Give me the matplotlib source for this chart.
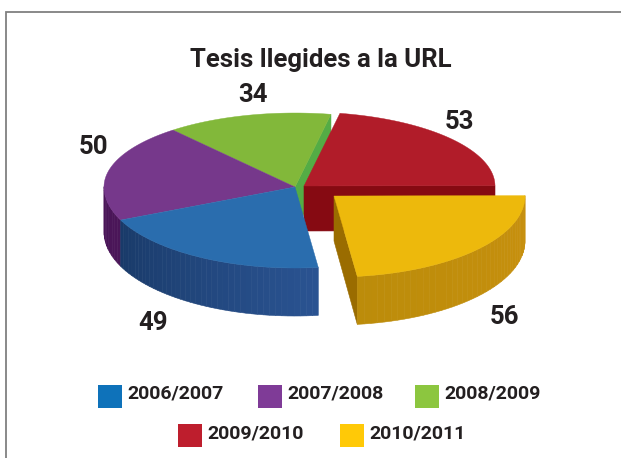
import numpy as np
import matplotlib
matplotlib.use("Agg")
from matplotlib import pyplot as plt
from matplotlib.colors import to_rgb
from matplotlib.patches import Rectangle

seasons = ["2006/2007", "2007/2008", "2008/2009", "2009/2010", "2010/2011"]
tesis = [49, 50, 34, 53, 56]
top_colors = ["#2A6DAE", "#76388B", "#82B83A", "#B11C29", "#EDB90C"]
legend_colors = ["#0E72BA", "#7F3B97", "#8CC63F", "#BE1E2D", "#FFC907"]

plt.rcParams['font.family'] = ['Roboto', 'DejaVu Sans']
text_color = "#231F20"

fig = plt.figure(figsize=(6.21, 4.58), dpi=100)
ax = fig.add_axes([0, 0, 1, 1])
ax.set_xlim(0, 621)
ax.set_ylim(458, 0)
ax.axis("off")

# pie shape, in pixels
rx = 191
b_back = 74
b_front = 81
depth = 45
start = 277

# wedge angles come from the values, clockwise from the start angle
angles = start - np.concatenate([[0], np.cumsum(tesis)]) * 360 / sum(tesis)
# the last two slices are pulled out of the pie
centers = [(295, 187), (295, 187), (295, 187), (304, 186), (334, 196)]


def rim(c, t):
    t = np.radians(t)
    b = np.where(np.sin(t) > 0, b_back, b_front)
    return c[0] + rx * np.cos(t), c[1] - b * np.sin(t)


def rim_depth(t):
    # side looks a bit taller at the front of the pie
    return depth + 3 * np.maximum(-np.sin(np.radians(t)), 0)


def wedge(c, t0, t1):
    x, y = rim(c, np.linspace(t0, t1, 120))
    return np.r_[c[0], x], np.r_[c[1], y]


def wall(c, t0, t1, col0, col1, n=40):
    # side of the pie as thin vertical strips so the shade can change
    ts = np.linspace(t0, t1, n + 1)
    col0, col1 = np.array(to_rgb(col0)), np.array(to_rgb(col1))
    for i in range(n):
        t = np.linspace(ts[i], ts[i + 1], 4)
        x, y = rim(c, t)
        col = col0 + (col1 - col0) * i / (n - 1)
        ax.fill(np.r_[x, x[::-1]], np.r_[y, (y + rim_depth(t))[::-1]], color=col, lw=0.4)


def cut(c, t, col):
    # flat face where a slice was cut, from centre to rim
    x, y = rim(c, t)
    ax.fill([c[0], x, x, c[0]], [c[1], y, y + rim_depth(t), c[1] + depth], color=col, lw=0.4)


# back to front
cut(centers[2], angles[3], "#54AC45")
x, y = wedge(centers[2], angles[2], angles[3])
ax.fill(x, y, color=top_colors[2], lw=0.3)

cut(centers[3], angles[4], "#860A12")
x, y = wedge(centers[3], angles[3], angles[4])
ax.fill(x, y, color=top_colors[3], lw=0.3)

wall(centers[1], angles[2] + 50, angles[1], "#4A1558", "#4A1558", n=10)
x, y = wedge(centers[1], angles[1], angles[2])
ax.fill(x, y, color=top_colors[1], lw=0.3)

wall(centers[0], angles[1], angles[0], "#193A69", "#2A5391")
x, y = wedge(centers[0], angles[0], angles[1])
ax.fill(x, y, color=top_colors[0], lw=0.3)

cut(centers[4], angles[5], "#9A6C00")
wall(centers[4], angles[4], angles[5], "#C8900E", "#BC8C0A")
x, y = wedge(centers[4], angles[4], angles[5])
ax.fill(x, y, color=top_colors[4], lw=0.3)

ax.text(321, 60, "Tesis llegides a la URL", fontsize=18.5, weight="bold",
        color=text_color, ha="center", va="center")

label_pos = [(153, 323), (93, 147), (253, 95), (459, 122), (504, 317)]
for v, (lx, ly) in zip(tesis, label_pos):
    ax.text(lx, ly, str(v), fontsize=18.5, weight="bold", color=text_color,
            ha="center", va="center")

swatch_pos = [(98, 385), (258, 385), (415, 385), (178, 424), (340, 424)]
for s, col, (sx, sy) in zip(seasons, legend_colors, swatch_pos):
    ax.add_patch(Rectangle((sx, sy), 24, 23, color=col, lw=0))
    ax.text(sx + 29, sy + 9, s, fontsize=14, weight="bold", color=text_color,
            ha="left", va="center")

# grey frame line, top and left
ax.plot([6, 6, 621], [458, 12, 12], color="#808080", lw=1.3, solid_joinstyle="miter")

fig.savefig("out.png", dpi=100)
